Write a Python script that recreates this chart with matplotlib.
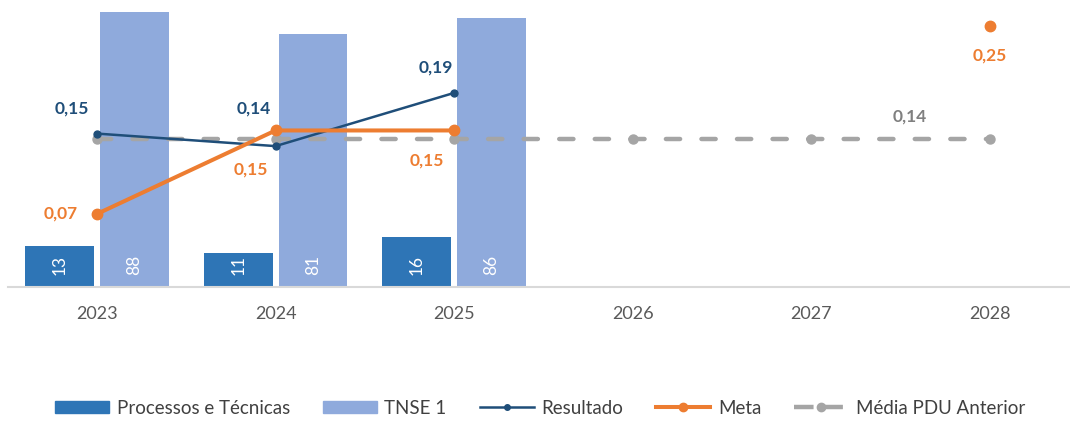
import matplotlib
matplotlib.use("Agg")
import matplotlib.pyplot as plt
import numpy as np
from matplotlib.patches import Patch
from matplotlib.lines import Line2D

plt.rcParams['font.family'] = ['Lato', 'DejaVu Sans']

# data
years = ['2023', '2024', '2025', '2026', '2027', '2028']
processos = [13, 11, 16, np.nan, np.nan, np.nan]
tnse = [88, 81, 86, np.nan, np.nan, np.nan]
resultado = [0.147, 0.135, 0.186, np.nan, np.nan, np.nan]
resultado_lbl = ['0,15', '0,14', '0,19']
meta = [0.07, 0.15, 0.15, np.nan, np.nan, 0.25]
meta_lbl = ['0,07', '0,15', '0,15', None, None, '0,25']
media = [0.1415] * 6

c_proc = '#2E75B6'
c_tnse = '#8FAADC'
c_res = '#1F4E79'
c_meta = '#ED7D31'
c_media = '#A5A5A5'

fig = plt.figure(figsize=(10.7, 4.21), dpi=100)
ax = fig.add_axes([8 / 1070, 134 / 421, 1062 / 1070, 287 / 421])
ax2 = ax.twinx()

x = np.arange(len(years))
w = 0.385
gap = 0.034
xp = x - (w + gap) / 2
xt = x + (w + gap) / 2
ax.bar(xp, processos, width=w, color=c_proc, zorder=2)
ax.bar(xt, tnse, width=w, color=c_tnse, zorder=2)

for xs, vals in ((xp, processos), (xt, tnse)):
    for xi, v in zip(xs, vals):
        if np.isnan(v):
            continue
        ax.annotate(str(int(v)), (xi, 0), xytext=(0, 22), textcoords='offset pixels',
                    ha='center', va='center', rotation=90, color='white', fontsize=12.5)

ax.set_xlim(-0.498, 5.448)
ax.set_ylim(0, 91.84)
ax2.set_ylim(0, 0.275)

# lines
ax2.plot(x, media, color=c_media, lw=3.2, dashes=(3.2, 4.8), marker='o', ms=6.5,
         dash_capstyle='round', zorder=3)
ax2.plot(x, resultado, color=c_res, lw=1.8, marker='o', ms=5, zorder=4)
ax2.plot(x, meta, color=c_meta, lw=2.9, marker='o', ms=7.5, zorder=5)

res_off = [(-25, 25), (-22, 38), (-18, 25)]
for i, lbl in enumerate(resultado_lbl):
    ax2.annotate(lbl, (x[i], resultado[i]), xytext=res_off[i], textcoords='offset pixels',
                 ha='center', va='center', color=c_res, fontsize=12.5, fontweight='bold')

meta_off = [(-36, 0), (-25, -39), (-27, -30), None, None, (0, -29)]
for i, lbl in enumerate(meta_lbl):
    if lbl is None:
        continue
    ax2.annotate(lbl, (x[i], meta[i]), xytext=meta_off[i], textcoords='offset pixels',
                 ha='center', va='center', color=c_meta, fontsize=12.5, fontweight='bold')

ax2.annotate('0,14', (x[5], media[5]), xytext=(-80, 23), textcoords='offset pixels',
             ha='center', va='center', color='#808080', fontsize=12.5, fontweight='bold')

# axes styling
for a in (ax, ax2):
    for s in ('top', 'left', 'right'):
        a.spines[s].set_visible(False)
    a.set_yticks([])
ax2.spines['bottom'].set_visible(False)
ax.spines['bottom'].set_color('#D9D9D9')
ax.spines['bottom'].set_linewidth(1.5)
ax.set_xticks(x)
ax.set_xticklabels(years, fontsize=13, color='#595959')
ax.tick_params(axis='x', length=0, pad=14)

handles = [
    Patch(color=c_proc),
    Patch(color=c_tnse),
    Line2D([], [], color=c_res, lw=1.8, marker='o', ms=4),
    Line2D([], [], color=c_meta, lw=2.9, marker='o', ms=6),
    Line2D([], [], color=c_media, lw=3.2, dashes=(4.4, 2.2), marker='o', ms=6),
]
labels = ['Processos e Técnicas', 'TNSE 1', 'Resultado', 'Meta', 'Média PDU Anterior']
fig.legend(handles, labels, loc='center', bbox_to_anchor=(540 / 1070, 1 - 408 / 421),
           ncol=5, frameon=False, fontsize=13.5, handlelength=2.9, handleheight=0.6,
           columnspacing=1.75, handletextpad=0.4, labelcolor='#404040')

fig.savefig('out.png', dpi=100)
